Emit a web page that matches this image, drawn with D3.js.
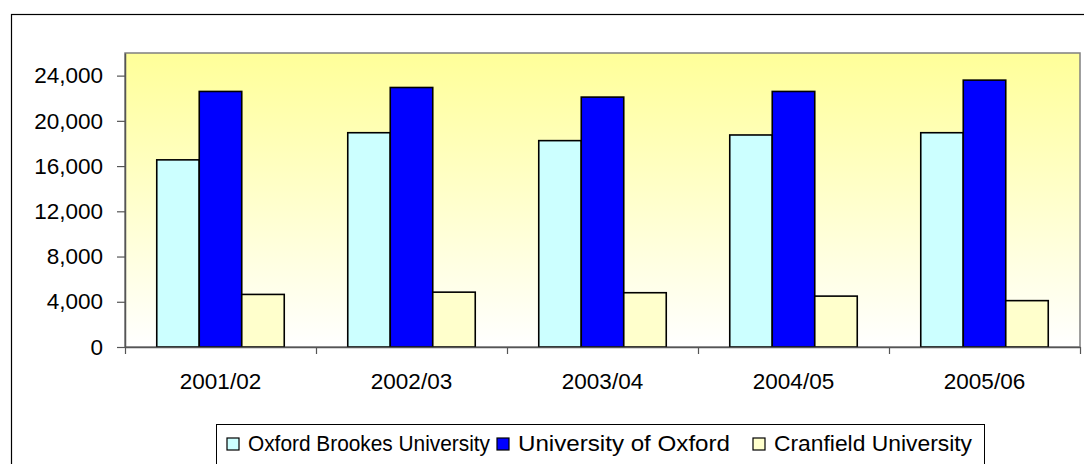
<!DOCTYPE html>
<html>
<head>
<meta charset="utf-8">
<script src="https://cdn.jsdelivr.net/npm/d3@7"></script>
<style>
  body { margin: 0; background: #fff; }
  svg { display: block; font-family: "Liberation Sans", Arial, sans-serif; }
</style>
</head>
<body>
<svg width="1084" height="464"></svg>
<script>
// Data
const years = ["2001/02", "2002/03", "2003/04", "2004/05", "2005/06"];
const seriesNames = ["Oxford Brookes University", "University of Oxford", "Cranfield University"];
const brookes = [16550, 18950, 18250, 18750, 18950];
const oxford = [22600, 22950, 22100, 22600, 23600];
const cranfield = [4650, 4850, 4800, 4500, 4100];
const yTicks = [0, 4000, 8000, 12000, 16000, 20000, 24000];

const colors = ["#CCFFFF", "#0000FF", "#FFFFCC"];
const values = [brookes, oxford, cranfield];

// plot area box
const plot = { left: 125, right: 1080, top: 53, bottom: 347 };

const svg = d3.select("svg");

// outer chart border (runs off the bottom/right of the picture)
svg.append("rect")
    .attr("x", 11.5).attr("y", 14.5)
    .attr("width", 1090).attr("height", 470)
    .attr("fill", "none").attr("stroke", "#000").attr("stroke-width", 1.2);

// background gradient
const grad = svg.append("defs").append("linearGradient")
    .attr("id", "bg").attr("x1", 0).attr("y1", 0).attr("x2", 0).attr("y2", 1);
grad.append("stop").attr("offset", "0%").attr("stop-color", "#FFFF99");
grad.append("stop").attr("offset", "100%").attr("stop-color", "#FFFFFF");

svg.append("rect")
    .attr("x", plot.left).attr("y", plot.top)
    .attr("width", plot.right - plot.left).attr("height", plot.bottom - plot.top)
    .attr("fill", "url(#bg)").attr("stroke", "#808080").attr("stroke-width", 1.5);

// scales
const y = d3.scaleLinear().domain([0, 26000]).range([plot.bottom, plot.top]);
const x0 = d3.scaleBand().domain(years).range([plot.left, plot.right])
    .paddingInner(0.3325).paddingOuter(0.3325 / 2);
const x1 = d3.scaleBand().domain(d3.range(seriesNames.length)).range([0, x0.bandwidth()]);

// bars
const groups = svg.append("g").selectAll("g")
    .data(years)
    .join("g")
    .attr("transform", d => "translate(" + x0(d) + ",0)");

groups.selectAll("rect")
    .data((d, i) => values.map((s, k) => ({ k: k, v: s[i] })))
    .join("rect")
    .attr("x", d => x1(d.k))
    .attr("y", d => y(d.v))
    .attr("width", x1.bandwidth())
    .attr("height", d => y(0) - y(d.v))
    .attr("fill", d => colors[d.k])
    .attr("stroke", "#000")
    .attr("stroke-width", 1.6);

// y axis
const yAxis = svg.append("g")
    .attr("transform", "translate(" + plot.left + ",0)")
    .call(d3.axisLeft(y).tickValues(yTicks).tickFormat(d3.format(","))
        .tickSizeInner(8).tickSizeOuter(0).tickPadding(14));
yAxis.select(".domain").attr("stroke", "#555").attr("stroke-width", 1.5);
yAxis.selectAll(".tick line").attr("stroke", "#555").attr("stroke-width", 1.2);
yAxis.selectAll("text").attr("font-size", 22.5).attr("fill", "#000")
    .attr("font-family", "Liberation Sans, Arial, sans-serif");

// x axis: ticks between categories
const xb = d3.scaleLinear().domain([0, years.length]).range([plot.left, plot.right]);
const xAxis = svg.append("g")
    .attr("transform", "translate(0," + plot.bottom + ")")
    .call(d3.axisBottom(xb).tickValues(d3.range(years.length + 1)).tickFormat("")
        .tickSizeInner(7).tickSizeOuter(0));
xAxis.select(".domain").attr("stroke", "#555").attr("stroke-width", 1.5);
xAxis.selectAll(".tick line").attr("stroke", "#555").attr("stroke-width", 1.2);

const xLabels = svg.append("g")
    .attr("transform", "translate(0," + plot.bottom + ")")
    .call(d3.axisBottom(x0).tickSize(0).tickPadding(26));
xLabels.select(".domain").remove();
xLabels.selectAll("text").attr("font-size", 22.5).attr("fill", "#000")
    .attr("font-family", "Liberation Sans, Arial, sans-serif");

// legend
const legend = { left: 216, right: 984, top: 424.5 };
const legendX = [227, 497, 753];      // swatch positions
const legendTextW = [242, 212, 198];  // rendered text widths
svg.append("rect")
    .attr("x", legend.left + 0.5).attr("y", legend.top)
    .attr("width", legend.right - legend.left).attr("height", 60)
    .attr("fill", "#fff").attr("stroke", "#000").attr("stroke-width", 1);

const items = svg.append("g").selectAll("g")
    .data(seriesNames)
    .join("g")
    .attr("transform", (d, i) => "translate(" + legendX[i] + ",0)");
items.append("rect")
    .attr("width", 12).attr("height", 12)
    .attr("y", 438)
    .attr("fill", (d, i) => colors[i])
    .attr("stroke", "#000").attr("stroke-width", 1.2);
items.append("text")
    .attr("x", 21).attr("y", 451)
    .attr("font-size", 22).attr("fill", "#000")
    .attr("textLength", (d, i) => legendTextW[i])
    .attr("lengthAdjust", "spacingAndGlyphs")
    .text(d => d);
</script>
</body>
</html>
